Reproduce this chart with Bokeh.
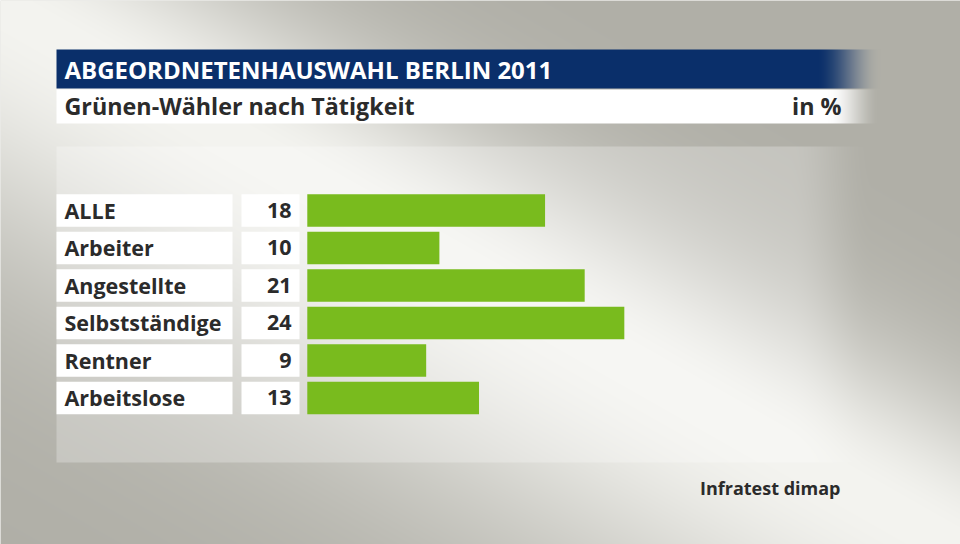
import numpy as np
from bokeh.plotting import figure
from bokeh.models import Range1d, ColumnDataSource
from bokeh.core.properties import value
from bokeh.embed import file_html
from bokeh.resources import INLINE

# ---------------- data ----------------
title = "ABGEORDNETENHAUSWAHL BERLIN 2011"
subtitle = "Grünen-Wähler nach Tätigkeit"
unit_label = "in %"
source_label = "Infratest dimap"
categories = ["ALLE", "Arbeiter", "Angestellte", "Selbstständige", "Rentner", "Arbeitslose"]
values = [18, 10, 21, 24, 9, 13]

# ---------------- styling ----------------
FONT = "Open Sans"
TXT = "#2b2b2b"
GREEN = "#79bb1e"
BLUE = (10, 47, 106)

W, H = 960, 544
# main ranges: data units == pixel coordinates (y grows downward)
p = figure(width=W, height=H, x_range=Range1d(0, W), y_range=Range1d(H, 0),
           output_backend="svg", toolbar_location=None, min_border=0,
           x_axis_location=None, y_axis_location=None)
p.grid.visible = False
p.outline_line_color = None
p.background_fill_color = "#d8d8d2"
p.border_fill_color = "#d8d8d2"

# value range for the bars, and row range for categories
p.extra_x_ranges = {"bars": Range1d(-23.225, 49.45)}
p.extra_y_ranges = {"rows": Range1d(8.907, -5.6)}

# ---------------- background image ----------------
xs = np.arange(0, W) + 0.5
ys = np.arange(0, H) + 0.5
X, Y = np.meshgrid(xs, ys)
perp = (Y - 0.567 * X) / 1.149
wdt = np.where(perp > 0, 220.0, 130.0)
f = np.exp(-(perp / wdt) ** 2)
light = np.array([244, 244, 240], dtype=float)
gray = np.array([176, 175, 167], dtype=float)
img = gray[None, None, :] + (light - gray)[None, None, :] * f[..., None]

def smooth_fade(x, x0, x1):
    t = np.clip((x - x0) / (x1 - x0), 0, 1)
    return 1 - (t * t * (3 - 2 * t))

# panel overlay (light)
a = 0.26 * smooth_fade(X, 790, 872) * ((X >= 56) & (Y >= 146) & (Y <= 462))
img = img * (1 - a[..., None]) + 255 * a[..., None]
# blue header band
a = smooth_fade(X, 815, 880) * ((X >= 56) & (Y >= 49) & (Y < 88))
img = img * (1 - a[..., None]) + np.array(BLUE, dtype=float)[None, None, :] * a[..., None]
# white subtitle band
a = smooth_fade(X, 828, 880) * ((X >= 56) & (Y >= 89) & (Y < 123))
img = img * (1 - a[..., None]) + 255 * a[..., None]

img = np.clip(img, 0, 255).astype(np.uint8)
rgba = np.empty((H, W), dtype=np.uint32)
view = rgba.view(dtype=np.uint8).reshape((H, W, 4))
view[..., 0] = img[..., 0]
view[..., 1] = img[..., 1]
view[..., 2] = img[..., 2]
view[..., 3] = 255
p.image_rgba(image=[rgba], x=0, y=0, dw=W, dh=H)

# ---------------- rows ----------------
idx = list(range(len(categories)))
src = ColumnDataSource(dict(idx=idx, cat=categories, val=values,
                            vtxt=[str(v) for v in values]))

p.hbar(y="idx", left=56, right=232, height=0.87, source=src, y_range_name="rows",
       fill_color="white", line_color=None)
p.hbar(y="idx", left=241, right=299, height=0.87, source=src, y_range_name="rows",
       fill_color="white", line_color=None)

# bars
p.hbar(y="idx", left=0, right="val", height=0.87, source=src,
       x_range_name="bars", y_range_name="rows",
       fill_color=GREEN, line_color=None)

p.text(x=64, y="idx", text="cat", source=src, y_range_name="rows",
       text_font=value(FONT), text_font_style="bold", text_font_size="21.5px",
       text_color=TXT, text_align="left", text_baseline="middle")
p.text(x=291, y="idx", text="vtxt", source=src, y_range_name="rows",
       text_font=value(FONT), text_font_style="bold", text_font_size="21.5px",
       text_color=TXT, text_align="right", text_baseline="middle")

# ---------------- titles ----------------
p.text(x=[64], y=[68.5], text=[title], text_font=value(FONT), text_font_style="bold",
       text_font_size="24px", text_color="white", text_align="left", text_baseline="middle")
p.text(x=[64], y=[105], text=[subtitle], text_font=value(FONT), text_font_style="bold",
       text_font_size="23.3px", text_color=TXT, text_align="left", text_baseline="middle")
p.text(x=[841], y=[105], text=[unit_label], text_font=value(FONT), text_font_style="bold",
       text_font_size="23.3px", text_color=TXT, text_align="right", text_baseline="middle")
p.text(x=[840], y=[487], text=[source_label], text_font=value(FONT), text_font_style="bold",
       text_font_size="18px", text_color=TXT, text_align="right", text_baseline="middle")

open("out.html", "w").write(file_html(p, INLINE))
